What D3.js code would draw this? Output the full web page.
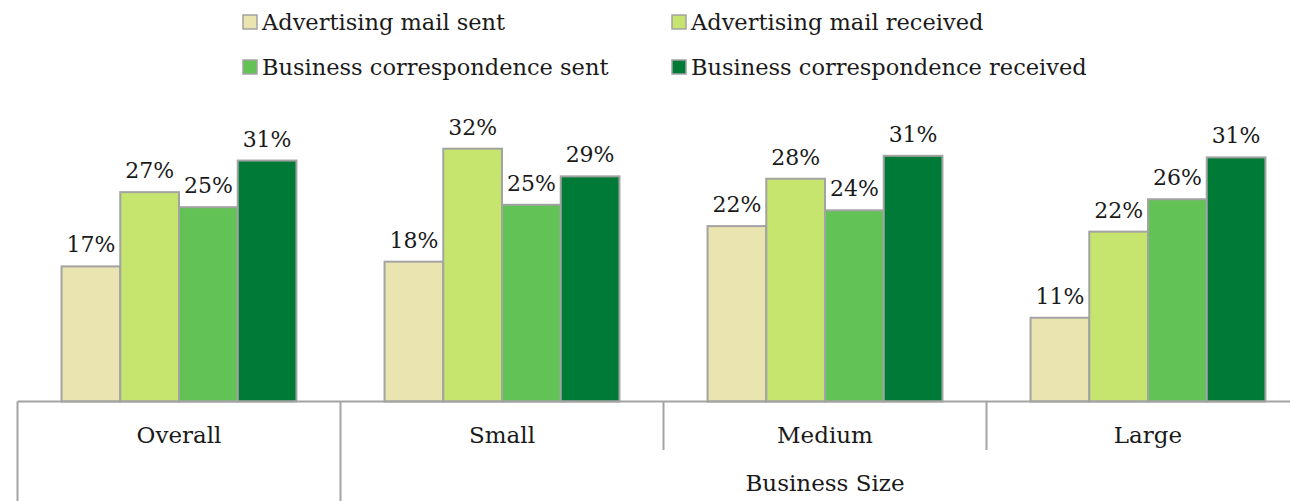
<!DOCTYPE html>
<html>
<head>
<meta charset="utf-8">
<script src="https://cdn.jsdelivr.net/npm/d3@7"></script>
<style>
  html, body { margin: 0; padding: 0; background: #fff; }
  svg { display: block; }
  text { font-family: "DejaVu Serif", "Liberation Serif", serif; fill: #1a1a1a; }
</style>
</head>
<body>
<svg id="chart" width="1290" height="501"></svg>
<script>
// ---- data ----
const categories = ["Overall", "Small", "Medium", "Large"];
const seriesNames = [
  "Advertising mail sent",
  "Advertising mail received",
  "Business correspondence sent",
  "Business correspondence received"
];
const advertisingMailSent = [17.1, 17.7, 22.2, 10.6];
const advertisingMailReceived = [26.5, 32.0, 28.2, 21.5];
const businessCorrespondenceSent = [24.6, 24.9, 24.2, 25.6];
const businessCorrespondenceReceived = [30.5, 28.5, 31.1, 30.9];
const dataLabels = [
  ["17%", "18%", "22%", "11%"],
  ["27%", "32%", "28%", "22%"],
  ["25%", "25%", "24%", "26%"],
  ["31%", "29%", "31%", "31%"]
];
const outerGroupLabel = "Business Size";
const outerGroupMembers = ["Small", "Medium", "Large"];

// ---- styling ----
const colors = ["#EAE4B0", "#C5E56F", "#62C255", "#007A37"];
const strokeColor = "#A3A3A3";

const seriesValues = [advertisingMailSent, advertisingMailReceived,
                      businessCorrespondenceSent, businessCorrespondenceReceived];

const svg = d3.select("#chart");
const baseY = 401.5;

const x0 = d3.scaleBand().domain(categories).range([17.5, 1309.5]).padding(0);
const x1 = d3.scaleBand().domain(seriesNames).range([0, x0.bandwidth()])
  .paddingInner(0).paddingOuter(0.75);
const y = d3.scaleLinear().domain([0, 40]).range([baseY, baseY - 316]);

// bars
const groups = svg.append("g").selectAll("g")
  .data(categories).join("g")
  .attr("transform", c => `translate(${x0(c)},0)`);

groups.selectAll("rect")
  .data((c, ci) => seriesNames.map((s, si) => ({ s, si, v: seriesValues[si][ci], ci })))
  .join("rect")
  .attr("x", d => x1(d.s))
  .attr("y", d => y(d.v))
  .attr("width", x1.bandwidth())
  .attr("height", d => baseY - y(d.v))
  .attr("fill", d => colors[d.si])
  .attr("stroke", strokeColor)
  .attr("stroke-width", 2);

groups.selectAll("text.lbl")
  .data((c, ci) => seriesNames.map((s, si) => ({ s, si, v: seriesValues[si][ci], ci })))
  .join("text")
  .attr("class", "lbl")
  .attr("x", d => x1(d.s) + x1.bandwidth() / 2)
  .attr("y", d => y(d.v) - 14)
  .attr("text-anchor", "middle")
  .attr("font-size", 22)
  .text(d => dataLabels[d.si][d.ci]);

// axis: baseline and multi-level category separators
const axisG = svg.append("g").attr("stroke", strokeColor).attr("stroke-width", 2);
axisG.append("line").attr("x1", 17.5).attr("x2", 1290).attr("y1", baseY).attr("y2", baseY);

const firstOuter = categories.indexOf(outerGroupMembers[0]);
categories.forEach((c, i) => {
  const xx = x0(c);
  const full = (i === 0 || i === firstOuter);
  axisG.append("line").attr("x1", xx).attr("x2", xx)
    .attr("y1", baseY).attr("y2", full ? 501 : 450);
});

svg.append("g").selectAll("text")
  .data(categories).join("text")
  .attr("x", c => x0(c) + x0.bandwidth() / 2)
  .attr("y", 443)
  .attr("text-anchor", "middle")
  .attr("font-size", 23)
  .text(c => c);

const gx0 = x0(outerGroupMembers[0]);
const gx1 = x0(outerGroupMembers[outerGroupMembers.length - 1]) + x0.bandwidth();
svg.append("text")
  .attr("x", (gx0 + gx1) / 2)
  .attr("y", 491)
  .attr("text-anchor", "middle")
  .attr("font-size", 23)
  .text(outerGroupLabel);

// legend
const legendPos = [
  { x: 243, y: 22 }, { x: 672, y: 22 },
  { x: 243, y: 67 }, { x: 672, y: 67 }
];
const lg = svg.append("g").selectAll("g")
  .data(seriesNames).join("g")
  .attr("transform", (d, i) => `translate(${legendPos[i].x},${legendPos[i].y})`);
lg.append("rect")
  .attr("x", 0).attr("y", -7).attr("width", 14).attr("height", 14)
  .attr("fill", (d, i) => colors[i])
  .attr("stroke", strokeColor).attr("stroke-width", 1.5);
lg.append("text")
  .attr("x", 19).attr("y", 8)
  .attr("font-size", 22.5)
  .text(d => d);
</script>
</body>
</html>
